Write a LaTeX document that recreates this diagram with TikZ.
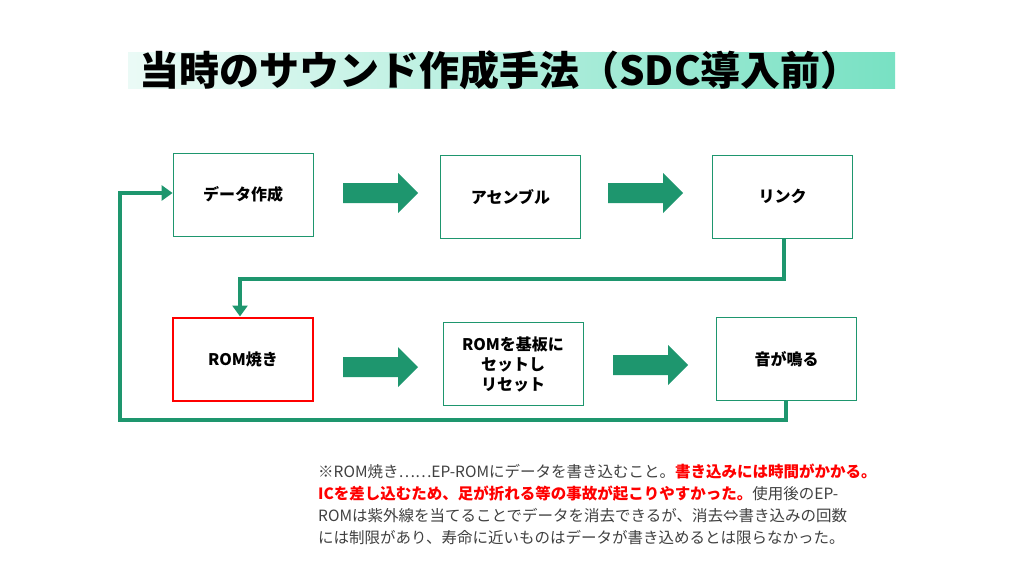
\documentclass[tikz,border=0pt]{standalone}
\usepackage{fontspec}
\setmainfont{Noto Sans CJK JP}
\usetikzlibrary{arrows.meta}
\definecolor{gr}{RGB}{30,150,110}
\definecolor{mint}{RGB}{120,225,195}
\begin{document}
\begin{tikzpicture}[x=1pt,y=-1pt,
 box/.style={draw=gr,line width=0.8pt,minimum width=140pt,minimum height=83pt,font=\bfseries\fontsize{16}{20}\selectfont,align=center},
 big/.style={fill=gr},
 conn/.style={draw=gr,line width=4pt,-{Triangle[length=11pt,width=15pt]}}]
\useasboundingbox (0,0) rectangle (1024,576);
\shade[left color=mint!15,right color=mint] (128,52) rectangle (895,88);
\node[font=\bfseries\fontsize{40}{42}\selectfont] (t) at (500,70) {当時のサウンド作成手法（SDC導入前）};
\node[box] (a) at (243,194.5) {データ作成};
\node[box] (b) at (510.5,197) {アセンブル};
\node[box] (c) at (782.5,196.5) {リンク};
\node[box,draw=red,line width=2pt] (d) at (243,359) {ROM焼き};
\node[box] (e) at (513,364) {ROMを基板に\\セットし\\リセット};
\node[box] (f) at (786.5,359) {音が鳴る};
\foreach \x/\y in {343/193,608/193,343/367,613/365}
  \fill[big] (\x,\y-10) -- ++(55,0) -- ++(0,-10) -- ++(20,20) -- ++(-20,20) -- ++(0,-10) -- ++(-55,0) -- cycle;
\coordinate (c1) at (784,279);
\coordinate (c2) at (240,279);
\coordinate (f1) at (786,420);
\coordinate (f2) at (120,420);
\coordinate (f3) at (120,193);
\draw[conn] (c.south -| c1) -- (c1) -- (c2) -- (c2 |- d.north);
\draw[conn] (f.south -| f1) -- (f1) -- (f2) -- (f3) -- (a.west |- f3);
\node[anchor=north west,align=left,text=black!75,font=\fontsize{15.5}{22}\selectfont,inner sep=0pt] (n) at (318,464) {※ROM焼き……EP-ROMにデータを書き込むこと。\textcolor{red}{\bfseries 書き込みには時間がかかる。}\\
\textcolor{red}{\bfseries ICを差し込むため、足が折れる等の事故が起こりやすかった。}使用後のEP-\\
ROMは紫外線を当てることでデータを消去できるが、消去⇔書き込みの回数\\
には制限があり、寿命に近いものはデータが書き込めるとは限らなかった。};
\end{tikzpicture}
\end{document}
